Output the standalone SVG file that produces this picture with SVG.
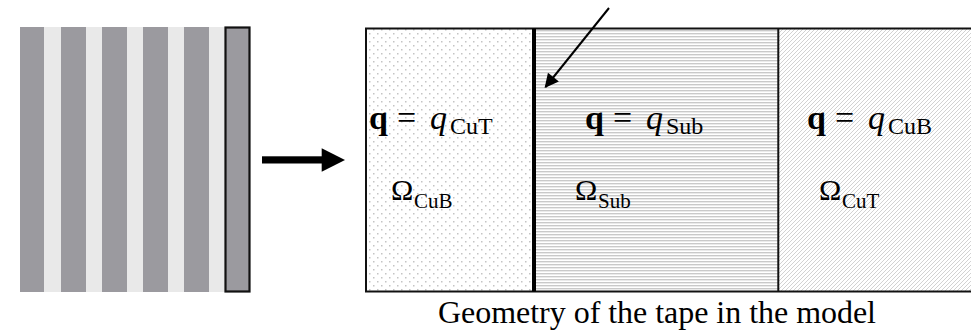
<svg xmlns="http://www.w3.org/2000/svg" width="971" height="331" viewBox="0 0 971 331">
<defs>
<pattern id="dots" patternUnits="userSpaceOnUse" width="8" height="8">
<rect x="1" y="1" width="1.5" height="1.5" fill="#c4c4c4"/>
<rect x="5" y="5" width="1.5" height="1.5" fill="#c4c4c4"/>
</pattern>
<pattern id="hlines" patternUnits="userSpaceOnUse" width="6" height="3">
<rect x="0" y="0" width="6" height="1.4" fill="#c9c9c9"/>
</pattern>
<pattern id="diag" patternUnits="userSpaceOnUse" width="4" height="4">
<path d="M0,4 L4,0 M-1,1 L1,-1 M3,5 L5,3" stroke="#d2d2d2" stroke-width="1"/>
</pattern>
<marker id="ah" viewBox="0 0 10 10" refX="9" refY="5" markerWidth="18" markerHeight="14" markerUnits="userSpaceOnUse" orient="auto">
<path d="M0,0 L10,5 L0,10 z" fill="#000"/>
</marker>
<style>
.math{font-family:"Liberation Serif","Times New Roman",serif;fill:#000}
.qb{font-size:34px;font-weight:bold}
.qi{font-size:34px;font-style:italic}
.eq{font-size:34px}
.sub{font-size:24px}
.om{font-size:30px}
.osub{font-size:21px}
.cap{font-family:"Liberation Serif","Times New Roman",serif;font-size:32px;fill:#000}
.dark{fill:#9b9a9f}
</style>
</defs>

<g id="tape-stack">
<rect x="20" y="27" width="205" height="265" fill="#e9e9e9"/>
<rect class="dark" x="20" y="27" width="24" height="265"/>
<rect class="dark" x="61" y="27" width="25" height="265"/>
<rect class="dark" x="102" y="27" width="25" height="265"/>
<rect class="dark" x="143" y="27" width="25" height="265"/>
<rect class="dark" x="184" y="27" width="25" height="265"/>
<rect class="dark" x="225.5" y="27.5" width="24" height="264" stroke="#111" stroke-width="2.2"/>
</g>

<g id="model-box">
<rect x="366" y="28.5" width="168" height="263" fill="#fff"/>
<rect x="366" y="28.5" width="168" height="263" fill="url(#dots)"/>
<rect x="534" y="28.5" width="244" height="263" fill="#fff"/>
<rect x="534" y="28.5" width="244" height="263" fill="url(#hlines)"/>
<rect x="778" y="28.5" width="200" height="263" fill="#fff"/>
<rect x="778" y="28.5" width="200" height="263" fill="url(#diag)"/>
<rect x="366" y="28.5" width="610" height="263" fill="none" stroke="#111" stroke-width="2"/>
<line x1="534" y1="28.5" x2="534" y2="291.5" stroke="#000" stroke-width="4"/>
<line x1="778.3" y1="28.5" x2="778.3" y2="291.5" stroke="#111" stroke-width="2"/>
</g>

<g id="connectors">
<rect x="262" y="156.3" width="60.5" height="7.2" fill="#000"/>
<polygon points="321.7,148.3 345,160 321.7,171.7" fill="#000"/>
<line x1="609" y1="8" x2="545.5" y2="87" stroke="#000" stroke-width="2" marker-end="url(#ah)"/>
</g>

<g id="region-cut">
<text class="math" y="129"><tspan class="qb" x="369">q</tspan><tspan class="eq" x="397">=</tspan><tspan class="qi" x="430">q</tspan><tspan class="sub" x="450" y="134">CuT</tspan></text>
<text class="math" y="200"><tspan class="om" x="391">Ω</tspan><tspan class="osub" x="414" y="208">CuB</tspan></text>
</g>

<g id="region-sub">
<text class="math" y="129"><tspan class="qb" x="585">q</tspan><tspan class="eq" x="613">=</tspan><tspan class="qi" x="646">q</tspan><tspan class="sub" x="666" y="134">Sub</tspan></text>
<text class="math" y="200"><tspan class="om" x="575">Ω</tspan><tspan class="osub" x="598" y="208">Sub</tspan></text>
</g>

<g id="region-cub">
<text class="math" y="129"><tspan class="qb" x="807">q</tspan><tspan class="eq" x="835">=</tspan><tspan class="qi" x="868">q</tspan><tspan class="sub" x="888" y="134">CuB</tspan></text>
<text class="math" y="200"><tspan class="om" x="819">Ω</tspan><tspan class="osub" x="842" y="208">CuT</tspan></text>
</g>

<g id="caption">
<text class="cap" x="438" y="323" textLength="438" lengthAdjust="spacing">Geometry of the tape in the model</text>
</g>
</svg>
